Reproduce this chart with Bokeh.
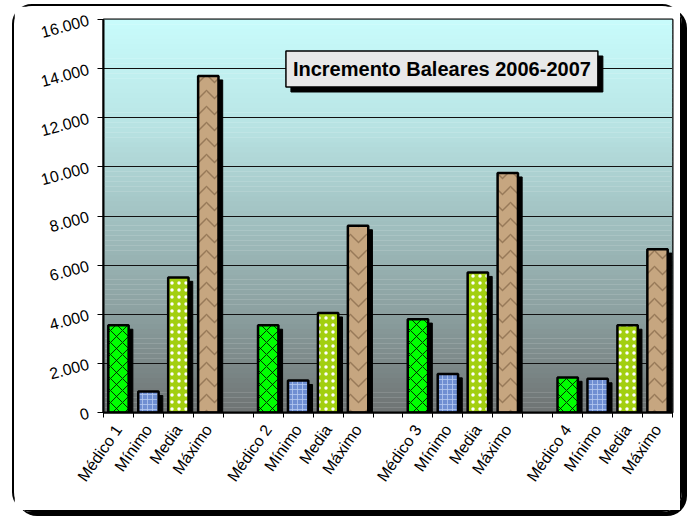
import math
from bokeh.plotting import figure
from bokeh.models import FixedTicker, BoxAnnotation, Label, ColumnDataSource, Range1d
from bokeh.transform import dodge
from bokeh.embed import file_html
from bokeh.resources import INLINE

# ---- data ----
groups = ["Médico 1", "Médico 2", "Médico 3", "Médico 4"]
stats = ["Mínimo", "Media", "Máximo"]
medico = [3550, 3550, 3800, 1430]
minimo = [850, 1300, 1570, 1370]
media = [5500, 4050, 5700, 3550]
maximo = [13700, 7600, 9750, 6650]
y_ticks = [0, 2000, 4000, 6000, 8000, 10000, 12000, 14000, 16000]
y_tick_labels = ["0", "2.000", "4.000", "6.000", "8.000", "10.000", "12.000", "14.000", "16.000"]
title_text = "Incremento Baleares 2006-2007"

series = [medico, minimo, media, maximo]
slots_per_group = len(stats) + 2  # bars + one empty slot
n_slots = slots_per_group * len(groups) - 1

FONT = "Liberation Sans"

p = figure(width=670, height=508, output_backend="svg", toolbar_location=None,
           x_range=Range1d(0, n_slots), y_range=Range1d(0, 16000),
           min_border_left=89, min_border_right=12, min_border_top=13, min_border_bottom=102)
p.styles = {"border": "2px solid black", "border-radius": "20px",
            "box-shadow": "5px 4px 0 0 black", "margin-left": "12px", "margin-top": "4px"}
p.border_fill_color = "white"
p.background_fill_color = None

# gradient background
stops = [(0, (0x6e, 0x73, 0x73)), (4000, (0x8b, 0x9f, 0x9f)), (8000, (0xa2, 0xc2, 0xc2)),
         (12000, (0xba, 0xe6, 0xe6)), (16000, (0xc8, 0xfc, 0xfc))]
n_strips = 80
for i in range(n_strips):
    y0 = 16000 * i / n_strips
    y1 = 16000 * (i + 1) / n_strips
    ym = (y0 + y1) / 2
    for (a, ca), (b, cb) in zip(stops[:-1], stops[1:]):
        if a <= ym <= b:
            t = (ym - a) / (b - a)
            c = tuple(int(round(ca[j] + (cb[j] - ca[j]) * t)) for j in range(3))
            break
    p.add_layout(BoxAnnotation(bottom=y0, top=y1 + 10, fill_color="#%02x%02x%02x" % c,
                               fill_alpha=1, line_color=None, level="image"))

styles = [
    dict(fill_color="#00ff00", hatch_pattern="diagonal_cross", hatch_color="black",
         hatch_scale=12, hatch_weight=1, hatch_alpha=0.8),
    dict(fill_color="#6f8fd2", hatch_pattern="cross", hatch_color="#b4c8f0",
         hatch_scale=5, hatch_weight=1, hatch_alpha=0.8),
    dict(fill_color="#a2cf10", hatch_pattern="dot", hatch_color="white",
         hatch_scale=7, hatch_weight=4, hatch_alpha=1),
    dict(fill_color="#c6a680", hatch_pattern="horizontal_wave", hatch_color="#7a5d40",
         hatch_scale=16, hatch_weight=1.5, hatch_alpha=0.6),
]

sources = []
for k, vals in enumerate(series):
    xs = [g * slots_per_group + k + 0.5 for g in range(len(groups))]
    shadow = [v - 160 for v in vals]
    sources.append(ColumnDataSource(dict(x=xs, top=vals, stop=shadow)))

for src in sources:
    p.vbar(x=dodge("x", 0.14), top="stop", bottom=0, width=0.68, source=src,
           fill_color="black", line_color="black")
for src, st in zip(sources, styles):
    p.vbar(x="x", top="top", bottom=0, width=0.68, source=src,
           line_color="black", line_width=2.5, **st)

# axes
centers = []
labels = {}
for g, name in enumerate(groups):
    for k, lab in enumerate([name] + stats):
        c = g * slots_per_group + k + 0.5
        centers.append(c)
        labels[c] = lab
p.xaxis.ticker = FixedTicker(ticks=centers, minor_ticks=list(range(n_slots + 1)))
p.xaxis.major_label_overrides = labels
p.xaxis.major_label_orientation = math.radians(55)
p.xaxis.major_tick_out = 0
p.xaxis.major_tick_in = 0
p.xaxis.minor_tick_out = 5
p.xaxis.minor_tick_in = 0
p.xaxis.minor_tick_line_color = "black"
p.xaxis.axis_line_color = "black"
p.xaxis.axis_line_width = 2
p.xaxis.major_label_standoff = 9
p.xaxis.major_label_text_font_size = "16px"

p.yaxis.ticker = FixedTicker(ticks=y_ticks)
p.yaxis.major_label_overrides = {t: l for t, l in zip(y_ticks, y_tick_labels)}
p.yaxis.major_label_orientation = math.radians(15)
p.yaxis.major_tick_out = 6
p.yaxis.major_tick_in = 0
p.yaxis.minor_tick_line_color = None
p.yaxis.axis_line_color = "black"
p.yaxis.axis_line_width = 2
p.yaxis.major_label_standoff = 9
p.yaxis.major_label_text_font_size = "16px"

for ax in (p.xaxis, p.yaxis):
    ax.major_label_text_font = FONT
    ax.major_label_text_color = "black"
    ax.major_tick_line_color = "black"

p.xgrid.grid_line_color = None
p.ygrid.grid_line_color = "#111111"
p.ygrid.grid_line_width = 1
p.outline_line_color = "black"
p.outline_line_width = 2

# title box with shadow
tx, ty = 11.3, 13985
p.add_layout(Label(x=tx, y=ty, x_offset=5, y_offset=-5, text=title_text,
                   text_align="center", text_baseline="middle",
                   text_font=FONT, text_font_style="bold", text_font_size="20px",
                   text_color="black", background_fill_color="black",
                   border_line_color="black", padding=7))
p.add_layout(Label(x=tx, y=ty, text=title_text,
                   text_align="center", text_baseline="middle",
                   text_font=FONT, text_font_style="bold", text_font_size="20px",
                   text_color="black", background_fill_color="#e8e8e8",
                   border_line_color="black", border_line_width=1.5, padding=7))

open("out.html", "w").write(file_html(p, INLINE))
